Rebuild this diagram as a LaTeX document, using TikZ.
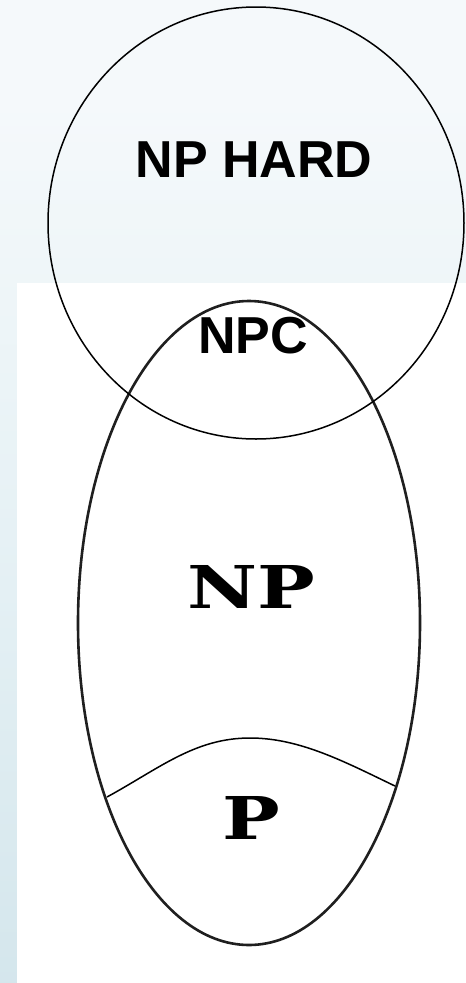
\documentclass[tikz,border=0pt]{standalone}
\usepackage{fontspec}
\newfontfamily\labelfont{Liberation Sans}
\newfontfamily\slabfont{DejaVu Serif}
\usetikzlibrary{calc}

\definecolor{bgtop}{HTML}{F5F9FB}
\definecolor{bgmid}{HTML}{E4F0F4}
\definecolor{bgbot}{HTML}{C1DAE3}
\pgfdeclareverticalshading{slidebg}{100bp}{color(0bp)=(bgbot); color(45bp)=(bgmid); color(70bp)=(bgtop); color(100bp)=(bgtop)}

\tikzset{
	hardlabel/.style={font=\labelfont\bfseries\fontsize{52}{52}\selectfont, inner sep=0pt},
	classlabel/.style={font=\slabfont\bfseries\fontsize{59}{59}\selectfont, inner sep=0pt, xscale=1.3},
	setline/.style={line width=2.6pt, color=black!88},
	hardline/.style={line width=1.5pt, color=black},
}

\begin{document}
\begin{tikzpicture}[x=1pt, y=-1pt]
			%%%%% START %%%%%
			\useasboundingbox (0, 0) rectangle (466, 983);
			
			% slide background and the white sheet
			\shade[shading=slidebg] (0, 0) rectangle (466, 983);
			\fill[white] (17, 283) rectangle (466, 983);
			
			% NP set, with P cut off at the bottom
			\draw[setline] (249, 623) ellipse [x radius=171, y radius=322];
			\coordinate (pleft) at (107, 797);
			\coordinate (pright) at (395, 786);
			\draw[hardline] (pleft) .. controls (160, 768) and (195, 738) .. (250, 738)
				.. controls (300, 738) and (345, 762) .. (pright);
			
			% NP hard set
			\draw[hardline] (256, 223) ellipse [x radius=208, y radius=216];
			
			\node[hardlabel] (hard) at (254, 160) {NP HARD};
			\node[hardlabel] (npc) at (253, 336) {NPC};
			\node[classlabel] (np) at (251, 587) {NP};
			\node[classlabel] (p) at (251, 818) {P};
			
			%%%%% END %%%%%
		\end{tikzpicture}
\end{document}
